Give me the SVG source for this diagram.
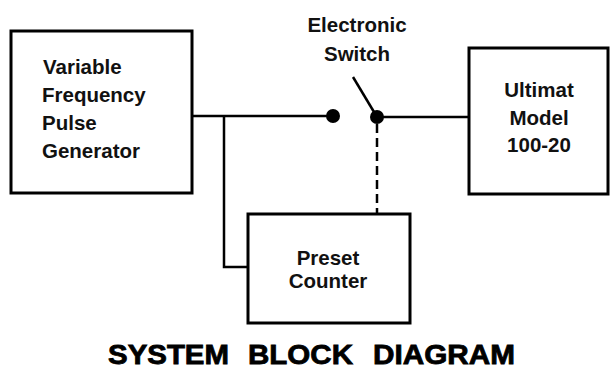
<svg xmlns="http://www.w3.org/2000/svg" width="610" height="373" viewBox="0 0 610 373">
<style>
.box{fill:none;stroke:#000;stroke-width:3}
.t{font-family:"Liberation Sans",Arial,sans-serif;font-weight:bold;font-size:20.5px;fill:#111}
.w{fill:none;stroke:#000;stroke-width:2.5}
.title{font-family:"Liberation Sans",Arial,sans-serif;font-weight:bold;font-size:27px;fill:#000;stroke:#000;stroke-width:0.8}
</style>
<rect width="610" height="373" fill="#fff"/>
<g id="connectors">
<polyline class="w" points="192,116 333,116"/>
<polyline class="w" points="224,116 224,267 248,267"/>
<line class="w" x1="353" y1="77" x2="377" y2="117"/>
<polyline class="w" points="377,117 469,117"/>
<line class="w" x1="377" y1="124" x2="377" y2="213" stroke-dasharray="9,5"/>
<circle cx="333" cy="116" r="7" fill="#000"/>
<circle cx="377" cy="117" r="7" fill="#000"/>
</g>
<g id="generator">
<rect class="box" x="11" y="31" width="181" height="162"/>
<text class="t" x="43" y="74">Variable</text>
<text class="t" x="42" y="102">Frequency</text>
<text class="t" x="42" y="130">Pulse</text>
<text class="t" x="42" y="158">Generator</text>
</g>
<g id="switch">
<text class="t" x="357" y="32" text-anchor="middle">Electronic</text>
<text class="t" x="357" y="61" text-anchor="middle">Switch</text>
</g>
<g id="ultimat">
<rect class="box" x="469" y="48" width="139" height="146"/>
<text class="t" x="539" y="97" text-anchor="middle">Ultimat</text>
<text class="t" x="539" y="125" text-anchor="middle">Model</text>
<text class="t" x="539" y="152" text-anchor="middle">100-20</text>
</g>
<g id="counter">
<rect class="box" x="248" y="214" width="162" height="109"/>
<text class="t" x="328" y="265" text-anchor="middle">Preset</text>
<text class="t" x="328" y="288" text-anchor="middle">Counter</text>
</g>
<g id="title">
<text class="title" x="108" y="364" textLength="121" lengthAdjust="spacingAndGlyphs">SYSTEM</text>
<text class="title" x="248" y="364" textLength="105" lengthAdjust="spacingAndGlyphs">BLOCK</text>
<text class="title" x="373" y="364" textLength="142" lengthAdjust="spacingAndGlyphs">DIAGRAM</text>
</g>
</svg>
